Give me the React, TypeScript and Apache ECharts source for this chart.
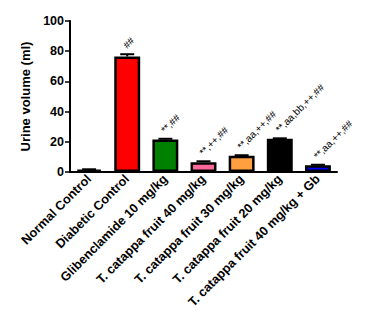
import React, { useEffect, useRef } from "react";
import * as echarts from "echarts";

const categories = [
  "Normal Control",
  "Diabetic Control",
  "Glibenclamide 10 mg/kg",
  "T. catappa fruit 40 mg/kg",
  "T. catappa fruit 30 mg/kg",
  "T. catappa fruit 20 mg/kg",
  "T. catappa fruit 40 mg/kg + Gb",
];
const means = [1.5, 76.5, 21.5, 6.5, 10.8, 22, 4.5];
const errors = [0.3, 1.5, 0.5, 0.6, 0.3, 0.3, 0.3];
const annotations = ["", "##", "**,##", "**,++,##", "**,aa,++,##", "**,aa,bb,++,##", "**,aa,++,##"];
const colors = ["#ffff00", "#ff0000", "#008000", "#ff6699", "#ffa040", "#000000", "#0000ff"];
const yTicks = [0, 20, 40, 60, 80, 100];

export default function App() {
  const ref = useRef<HTMLDivElement>(null);
  useEffect(() => {
    if (!ref.current) return;
    const chart = echarts.init(ref.current, null, { renderer: "svg" });
    const font = "'Liberation Sans', Arial, sans-serif";
    chart.setOption({
      animation: false,
      grid: { left: 70, right: 42, top: 21, bottom: 141 },
      xAxis: {
        type: "category",
        data: categories,
        axisLine: { lineStyle: { color: "#000", width: 2 } },
        axisTick: { alignWithLabel: true, length: 4, lineStyle: { color: "#000", width: 1.5 } },
        axisLabel: {
          rotate: 45,
          interval: 0,
          margin: 5,
          color: "#000",
          fontFamily: font,
          fontWeight: "bold",
          fontSize: 12.7,
        },
      },
      yAxis: {
        type: "value",
        min: yTicks[0],
        max: yTicks[yTicks.length - 1],
        interval: 20,
        name: "Urine volume (ml)",
        nameLocation: "middle",
        nameGap: 37,
        nameTextStyle: { color: "#000", fontFamily: font, fontWeight: "bold", fontSize: 13 },
        axisLine: { show: true, lineStyle: { color: "#000", width: 2 } },
        axisTick: { show: true, length: 5, lineStyle: { color: "#000", width: 1.5 } },
        splitLine: { show: false },
        axisLabel: { color: "#000", fontFamily: font, fontWeight: "bold", fontSize: 12.5, margin: 6 },
      },
      series: [
        {
          type: "bar",
          barWidth: "68%",
          data: means.map((v, i) => ({
            value: v,
            itemStyle: { color: colors[i], borderColor: "#000", borderWidth: 2.5 },
          })),
          z: 2,
        },
        {
          type: "custom",
          z: 3,
          data: means.map((v, i) => [i, v, errors[i]]),
          renderItem: (params: any, api: any) => {
            const i = api.value(0);
            const v = api.value(1);
            const e = api.value(2);
            const top = api.coord([i, v + e]);
            const base = api.coord([i, v]);
            const cx = top[0];
            const half = 7;
            return {
              type: "group",
              children: [
                {
                  type: "line",
                  shape: { x1: cx, y1: base[1], x2: cx, y2: top[1] },
                  style: { stroke: "#000", lineWidth: 2 },
                },
                {
                  type: "line",
                  shape: { x1: cx - half, y1: top[1], x2: cx + half, y2: top[1] },
                  style: { stroke: "#000", lineWidth: 2 },
                },
                {
                  type: "text",
                  x: cx + 1,
                  y: top[1] - 4,
                  rotation: Math.PI / 4,
                  originX: 0,
                  originY: 0,
                  style: {
                    text: annotations[params.dataIndex],
                    fontSize: 10,
                    fontFamily: font,
                    fill: "#000",
                    align: "left",
                    verticalAlign: "bottom",
                  },
                },
              ],
            };
          },
        },
      ],
    });
    return () => chart.dispose();
  }, []);
  return (
    <div
      ref={ref}
      style={{ position: "fixed", left: 0, top: 0, width: 379, height: 313, background: "#fff" }}
    />
  );
}
